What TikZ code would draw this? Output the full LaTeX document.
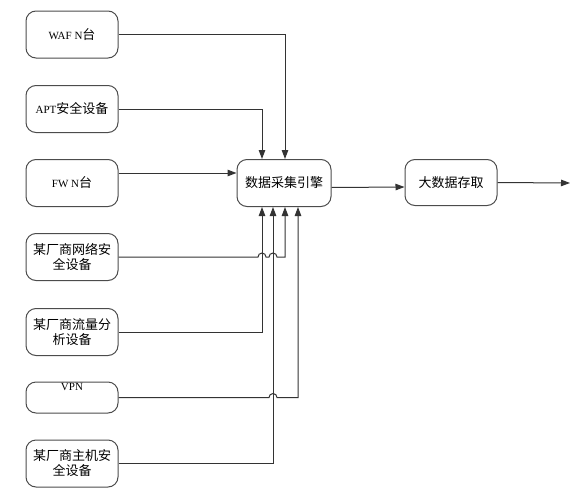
\documentclass[tikz,border=0pt]{standalone}
\usepackage{fontspec}
\setmainfont{Noto Sans CJK SC}
\newfontfamily\latfont{Liberation Serif}
\newcommand\lat[1]{{\latfont\fontsize{11}{13}\selectfont #1}}
\usepackage{tikz}
\usetikzlibrary{arrows.meta, calc, positioning}

\begin{document}
\begin{tikzpicture}[x=1pt, y=-1pt,
    box/.style={draw=black!70, line width=1pt, rounded corners=10pt,
        minimum width=92pt, minimum height=47pt, inner sep=0pt,
        align=center, font=\fontsize{13}{15}\selectfont},
    link/.style={draw=black!80, line width=1pt,
        -{Triangle[length=9pt, width=6.5pt]}}]
\useasboundingbox (0,0) rectangle (570,490);
% sources
\node[box] (waf) at (72,34.5) {\lat{WAF N}台};
\node[box] (apt) at (72,109) {\lat{APT}安全设备};
\node[box] (fw) at (72,183) {\lat{FW N}台};
\node[box] (netsec) at (72,257) {某厂商网络安\\全设备};
\node[box] (flow) at (72,332) {某厂商流量分\\析设备};
\node[box, minimum height=31pt,
    label={[anchor=north, inner sep=2pt]north:\lat{VPN}}]
    (vpn) at (72,397.5) {};
\node[box] (host) at (72,463.5) {某厂商主机安\\全设备};
% engine and storage
\node[box, minimum width=94pt] (engine) at (284,183) {数据采集引擎};
\node[box, minimum height=46pt] (bigdata) at (451,182.5) {大数据存取};
\coordinate (out) at (570,183);
% entry points below the engine
\coordinate (c1) at ([xshift=-22pt]engine.south);
\coordinate (c2) at ([xshift=-11pt]engine.south);
\coordinate (c3) at ([xshift=1pt]engine.south);
\coordinate (c4) at ([xshift=14pt]engine.south);
% links from above
\draw[link] (waf.east) -| ([xshift=1pt]engine.north);
\draw[link] (apt.east) -| ([xshift=-22pt]engine.north);
\draw[link] ([yshift=10pt]fw.east) -- ([yshift=10pt]engine.west);
% links from below
\draw[link] (flow.east) -| (c1);
\draw[link] (host.east) -| (c2);
\draw[link] (netsec.east) -- ([xshift=-4pt]netsec.east -| c1)
    arc[start angle=180, end angle=0, radius=4pt]
    -- ([xshift=-4pt]netsec.east -| c2)
    arc[start angle=180, end angle=0, radius=4pt] -| (c3);
\draw[link] (vpn.east) -- ([xshift=-4pt]vpn.east -| c2)
    arc[start angle=180, end angle=0, radius=4pt] -| (c4);
% output
\draw[link] ([yshift=-4.5pt]engine.east) -- ([yshift=-4.5pt]bigdata.west);
\draw[link] (bigdata.east) -- (out);
\end{tikzpicture}
\end{document}
